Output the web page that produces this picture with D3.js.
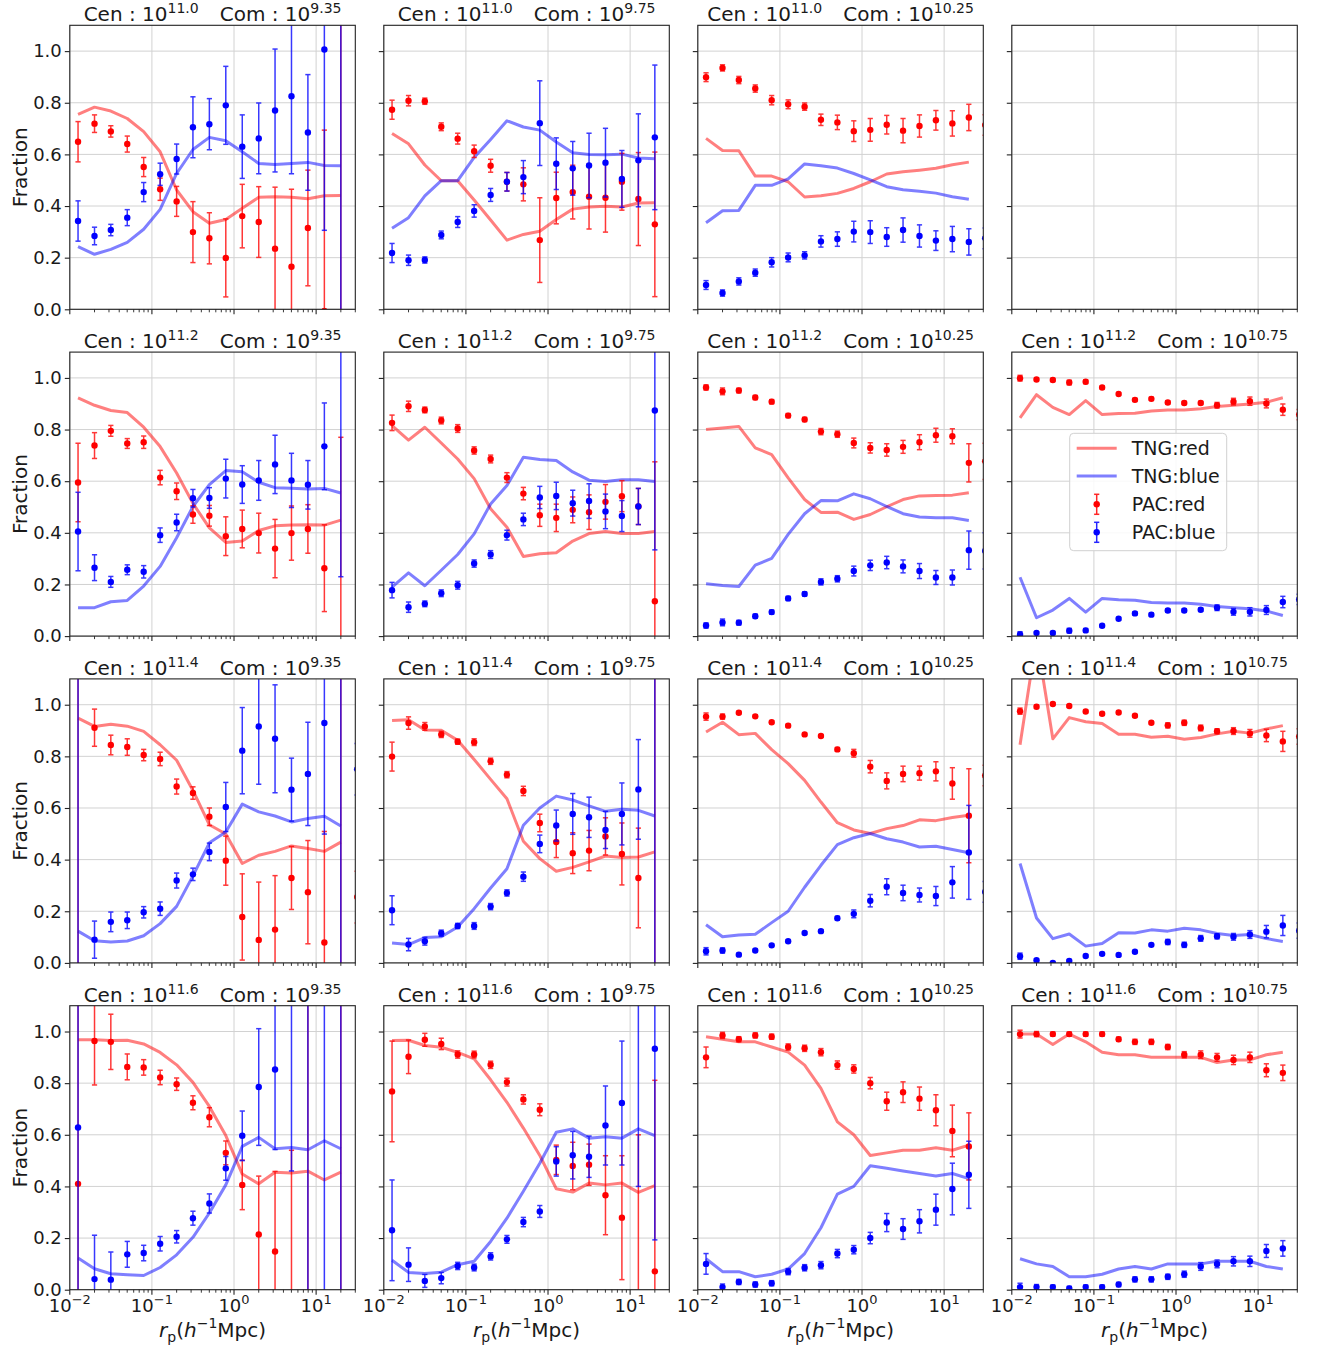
<!DOCTYPE html>
<html>
<head>
<meta charset="utf-8">
<title>Red and blue companion fractions vs projected distance</title>
<script src="https://cdn.jsdelivr.net/npm/d3@7/dist/d3.min.js"></script>
<style>
  html, body { margin: 0; padding: 0; background: #ffffff; }
  svg text { font-family: "DejaVu Sans", "Liberation Sans", sans-serif; fill: #1a1a1a; }
</style>
</head>
<body>
<svg id="fig" width="1320" height="1349"></svg>
<script>
// projected separation bin centres (h^-1 Mpc), 0.2 dex bins
const rp = [0.0126, 0.0200, 0.0316, 0.0501, 0.0794, 0.126, 0.200, 0.316, 0.501,
            0.794, 1.26, 2.00, 3.16, 5.01, 7.94, 12.6, 20.0, 31.6];

const cenMass = ["11.0", "11.2", "11.4", "11.6"];    // rows: central stellar mass
const comMass = ["9.35", "9.75", "10.25", "10.75"];  // columns: companion stellar mass

// panels in row-major order; null = no measurement for that mass pair
const tngRed = [
  [0.755,0.783,0.768,0.739,0.688,0.610,0.462,0.378,0.333,0.348,0.391,0.434,0.436,0.434,0.428,0.440,0.441],
  [0.681,0.641,0.559,0.498,0.498,0.423,0.346,0.268,0.290,0.302,0.348,0.388,0.396,0.399,0.396,0.412,0.413],
  [0.662,0.615,0.614,0.516,0.516,0.494,0.435,0.440,0.449,0.468,0.494,0.524,0.533,0.539,0.546,0.560,0.570],
  null,
  [0.923,0.894,0.874,0.866,0.809,0.734,0.632,0.514,0.419,0.363,0.368,0.409,0.427,0.430,0.431,0.430,0.449],
  [0.815,0.759,0.809,0.748,0.686,0.610,0.493,0.422,0.308,0.319,0.323,0.368,0.397,0.405,0.397,0.397,0.405],
  [0.800,0.806,0.812,0.729,0.703,0.613,0.529,0.479,0.480,0.452,0.471,0.501,0.529,0.543,0.545,0.546,0.555],
  [0.845,0.935,0.886,0.858,0.912,0.858,0.862,0.863,0.872,0.876,0.876,0.881,0.889,0.894,0.899,0.906,0.923],
  [0.948,0.916,0.924,0.917,0.897,0.845,0.785,0.668,0.535,0.499,0.385,0.417,0.432,0.453,0.443,0.432,0.468],
  [0.939,0.942,0.902,0.901,0.862,0.788,0.711,0.636,0.471,0.404,0.355,0.370,0.391,0.414,0.408,0.410,0.430],
  [0.894,0.932,0.884,0.889,0.826,0.772,0.707,0.623,0.543,0.515,0.501,0.520,0.532,0.554,0.551,0.563,0.572],
  [0.845,1.260,0.868,0.950,0.934,0.927,0.886,0.886,0.874,0.878,0.866,0.873,0.887,0.897,0.890,0.906,0.919],
  [0.968,0.968,0.965,0.966,0.952,0.919,0.871,0.803,0.710,0.597,0.448,0.410,0.455,0.452,0.459,0.425,0.455],
  [0.965,0.966,0.946,0.939,0.919,0.894,0.813,0.726,0.626,0.520,0.391,0.378,0.413,0.406,0.413,0.377,0.403],
  [0.980,0.970,0.960,0.960,0.940,0.920,0.870,0.780,0.650,0.600,0.520,0.530,0.540,0.540,0.550,0.540,0.560],
  [0.990,0.990,0.950,0.990,0.960,0.920,0.910,0.910,0.900,0.900,0.900,0.900,0.880,0.890,0.890,0.910,0.920]
];

const tngBlue = [
  [0.243,0.213,0.232,0.259,0.310,0.387,0.526,0.619,0.666,0.653,0.610,0.565,0.561,0.565,0.569,0.557,0.556],
  [0.314,0.355,0.439,0.498,0.498,0.588,0.658,0.730,0.706,0.694,0.648,0.606,0.600,0.599,0.601,0.586,0.583],
  [0.335,0.382,0.383,0.480,0.480,0.505,0.563,0.556,0.547,0.526,0.501,0.475,0.463,0.457,0.450,0.436,0.426],
  null,
  [0.110,0.110,0.133,0.138,0.194,0.270,0.381,0.502,0.587,0.641,0.637,0.596,0.575,0.573,0.570,0.572,0.554],
  [0.190,0.245,0.195,0.255,0.316,0.396,0.512,0.583,0.693,0.684,0.680,0.636,0.604,0.599,0.606,0.606,0.599],
  [0.203,0.196,0.192,0.275,0.301,0.394,0.474,0.525,0.524,0.551,0.532,0.502,0.474,0.461,0.458,0.458,0.448],
  [0.228,0.071,0.101,0.146,0.093,0.146,0.141,0.139,0.130,0.128,0.128,0.123,0.115,0.110,0.106,0.097,0.080],
  [0.123,0.086,0.081,0.085,0.105,0.152,0.219,0.337,0.465,0.507,0.615,0.585,0.569,0.546,0.559,0.568,0.530],
  [0.077,0.071,0.098,0.101,0.139,0.210,0.290,0.365,0.533,0.600,0.646,0.631,0.608,0.587,0.595,0.591,0.569],
  [0.148,0.101,0.108,0.111,0.156,0.200,0.293,0.378,0.458,0.485,0.501,0.481,0.468,0.449,0.452,0.439,0.427],
  [0.385,0.174,0.094,0.112,0.065,0.075,0.117,0.116,0.128,0.123,0.134,0.128,0.114,0.106,0.110,0.094,0.083],
  [0.123,0.081,0.062,0.058,0.055,0.086,0.135,0.203,0.297,0.406,0.555,0.590,0.546,0.551,0.542,0.577,0.546],
  [0.114,0.067,0.063,0.068,0.097,0.110,0.187,0.277,0.381,0.490,0.610,0.623,0.587,0.592,0.587,0.623,0.597],
  [0.120,0.070,0.070,0.050,0.060,0.080,0.140,0.240,0.370,0.400,0.480,0.470,0.460,0.450,0.440,0.450,0.430],
  [0.120,0.100,0.090,0.050,0.050,0.060,0.080,0.090,0.080,0.100,0.100,0.100,0.110,0.110,0.110,0.090,0.080]
];

const pacRed = [
  [0.649,0.719,0.689,0.640,0.551,0.465,0.418,0.299,0.275,0.199,0.361,0.338,0.235,0.165,0.315,-0.006,-0.6,null],
  [0.773,0.808,0.806,0.707,0.661,0.612,0.556,0.494,0.484,0.268,0.431,0.454,0.436,0.432,0.494,0.427,0.329,null],
  [0.899,0.935,0.888,0.855,0.810,0.794,0.785,0.734,0.724,0.690,0.695,0.715,0.692,0.710,0.732,0.720,0.743,0.714],
  null,
  [0.595,0.738,0.795,0.746,0.751,0.614,0.561,0.471,0.466,0.387,0.415,0.399,0.339,0.399,0.415,0.263,-0.3,null],
  [0.826,0.890,0.876,0.835,0.804,0.719,0.686,0.614,0.552,0.468,0.458,0.489,0.480,0.520,0.542,0.502,0.135,null],
  [0.963,0.948,0.951,0.924,0.908,0.854,0.839,0.792,0.782,0.748,0.729,0.721,0.733,0.751,0.778,0.774,0.671,0.677],
  [0.999,0.994,0.992,0.982,0.985,0.963,0.938,0.915,0.919,0.905,0.903,0.903,0.894,0.908,0.910,0.901,0.877,0.858],
  [1.3,0.911,0.844,0.836,0.805,0.790,0.683,0.658,0.566,0.396,0.178,0.089,0.129,0.329,0.274,0.079,-0.5,0.255],
  [0.799,0.929,0.916,0.885,0.857,0.855,0.781,0.729,0.666,0.542,0.468,0.425,0.435,0.490,0.422,0.329,-0.5,null],
  [0.954,0.954,0.969,0.955,0.932,0.919,0.885,0.879,0.827,0.812,0.760,0.705,0.732,0.735,0.742,0.695,0.570,0.726],
  [0.975,0.992,1.003,0.995,0.974,0.965,0.970,0.957,0.930,0.920,0.930,0.910,0.897,0.898,0.889,0.881,0.858,0.877],
  [0.410,0.963,0.960,0.863,0.861,0.822,0.796,0.724,0.668,0.530,0.406,0.214,0.148,-0.2,-0.6,null,-0.6,null],
  [0.768,0.902,0.968,0.952,0.911,0.911,0.871,0.804,0.737,0.697,0.503,0.479,0.484,0.366,0.279,-0.25,0.071,null],
  [0.900,0.985,0.970,0.985,0.980,0.940,0.935,0.920,0.870,0.855,0.800,0.730,0.765,0.740,0.695,0.615,0.555,null],
  [0.990,0.990,0.990,0.990,0.990,0.990,0.970,0.960,0.960,0.940,0.910,0.910,0.900,0.890,0.900,0.850,0.840,null]
];

const pacBlue = [
  [0.342,0.284,0.307,0.355,0.454,0.523,0.582,0.705,0.717,0.790,0.630,0.662,0.770,0.825,0.685,1.006,1.6,null],
  [0.218,0.190,0.191,0.288,0.338,0.381,0.443,0.494,0.512,0.721,0.564,0.546,0.557,0.568,0.505,0.577,0.666,null],
  [0.094,0.063,0.108,0.142,0.182,0.201,0.209,0.263,0.272,0.301,0.299,0.280,0.307,0.284,0.266,0.272,0.261,0.275],
  null,
  [0.405,0.265,0.210,0.257,0.249,0.391,0.440,0.534,0.535,0.610,0.587,0.603,0.665,0.603,0.586,0.735,1.3,null],
  [0.178,0.112,0.125,0.166,0.197,0.281,0.316,0.391,0.452,0.537,0.543,0.515,0.523,0.483,0.465,0.502,0.874,null],
  [0.041,0.053,0.052,0.077,0.093,0.146,0.163,0.210,0.222,0.252,0.274,0.285,0.270,0.252,0.227,0.227,0.333,0.330],
  [0.006,0.012,0.012,0.021,0.022,0.040,0.067,0.088,0.083,0.099,0.099,0.102,0.110,0.094,0.094,0.101,0.132,0.142],
  [-0.3,0.090,0.159,0.165,0.196,0.210,0.319,0.343,0.430,0.604,0.822,0.916,0.868,0.671,0.732,0.929,1.5,0.75],
  [0.204,0.071,0.084,0.115,0.143,0.143,0.218,0.271,0.334,0.461,0.532,0.577,0.564,0.515,0.577,0.672,1.5,null],
  [0.045,0.048,0.032,0.048,0.068,0.084,0.116,0.123,0.173,0.190,0.241,0.295,0.271,0.263,0.259,0.312,0.428,0.275],
  [0.026,0.010,0.000,0.008,0.027,0.035,0.031,0.043,0.070,0.081,0.070,0.095,0.103,0.101,0.110,0.121,0.145,0.125],
  [0.628,0.041,0.039,0.137,0.142,0.178,0.205,0.277,0.334,0.470,0.596,0.785,0.853,1.2,1.6,1.8,1.6,null],
  [0.230,0.097,0.034,0.045,0.092,0.086,0.129,0.195,0.262,0.303,0.497,0.521,0.515,0.636,0.723,1.25,0.933,null],
  [0.100,0.010,0.030,0.020,0.025,0.070,0.085,0.095,0.140,0.155,0.200,0.260,0.235,0.265,0.310,0.390,0.445,null],
  [0.010,0.010,0.010,0.005,0.010,0.010,0.020,0.040,0.040,0.050,0.060,0.090,0.100,0.110,0.110,0.150,0.160,null]
];

// 1-sigma uncertainty, shared by the red and blue fractions of a bin
const pacErr = [
  [0.078,0.034,0.022,0.031,0.037,0.043,0.058,0.118,0.099,0.151,0.123,0.137,0.238,0.300,0.224,0.700,2.5,0],
  [0.037,0.020,0.012,0.015,0.021,0.024,0.025,0.036,0.064,0.164,0.100,0.104,0.125,0.133,0.110,0.180,0.280,0],
  [0.017,0.012,0.014,0.014,0.018,0.017,0.014,0.022,0.028,0.040,0.044,0.036,0.047,0.043,0.038,0.049,0.051,0.04],
  null,
  [0.152,0.050,0.021,0.019,0.024,0.028,0.032,0.034,0.040,0.075,0.073,0.077,0.113,0.105,0.094,0.168,1.07,0],
  [0.030,0.020,0.011,0.013,0.015,0.014,0.015,0.019,0.024,0.043,0.053,0.050,0.067,0.067,0.060,0.070,0.540,0],
  [0.010,0.013,0.009,0.008,0.008,0.008,0.008,0.012,0.012,0.019,0.020,0.024,0.025,0.029,0.027,0.029,0.074,0.07],
  [0.011,0.005,0.006,0.009,0.007,0.005,0.005,0.006,0.006,0.006,0.006,0.006,0.011,0.013,0.016,0.017,0.022,0.02],
  [1.6,0.072,0.038,0.032,0.022,0.026,0.029,0.024,0.034,0.095,0.167,0.224,0.209,0.122,0.200,0.430,2.0,0.1],
  [0.056,0.024,0.015,0.012,0.010,0.013,0.012,0.012,0.018,0.034,0.060,0.079,0.078,0.072,0.120,0.193,2.0,0],
  [0.014,0.010,0.005,0.005,0.005,0.005,0.005,0.005,0.007,0.015,0.024,0.031,0.030,0.027,0.037,0.061,0.182,0.04],
  [0.012,0.006,0.005,0.005,0.005,0.005,0.005,0.005,0.005,0.010,0.010,0.011,0.010,0.013,0.015,0.024,0.039,0.03],
  [1.5,0.170,0.107,0.050,0.030,0.028,0.024,0.027,0.037,0.046,0.096,0.226,0.310,0.740,2.5,2.5,2.5,0],
  [0.195,0.065,0.025,0.022,0.014,0.013,0.014,0.015,0.018,0.023,0.057,0.092,0.080,0.153,0.240,0.850,0.740,0],
  [0.040,0.012,0.010,0.010,0.010,0.012,0.012,0.014,0.016,0.016,0.022,0.035,0.040,0.045,0.060,0.100,0.130,0],
  [0.015,0.010,0.008,0.008,0.008,0.008,0.008,0.010,0.010,0.010,0.012,0.015,0.015,0.018,0.020,0.025,0.030,0]
];

const yTicks = [0, 0.2, 0.4, 0.6, 0.8, 1.0];
const xMajor = [0.01, 0.1, 1, 10];
const xMajorExp = ["\u22122", "\u22121", "0", "1"];
const xMinor = [];
xMajor.forEach(dec => { for (let k = 2; k <= 9; k++) if (dec * k <= 30) xMinor.push(dec * k); });

// ---------- layout ----------
const W = 285.5, H = 284;
const colX = [69.8, 383.8, 697.8, 1011.8];
const rowY = [25.3, 352.1, 678.9, 1005.7];
const RED = "#ff0000", BLUE = "#0000ff";
const INK = "#222";

const x = d3.scaleLog().domain([0.01, 30]).range([0, W]);
const y = d3.scaleLinear().domain([0, 1.1]).range([H, 0]);

const svg = d3.select("#fig");
svg.append("rect").attr("width", 1320).attr("height", 1349).attr("fill", "#fff");
const defs = svg.append("defs");

const line = d3.line()
  .defined(d => d[1] != null)
  .x(d => x(d[0]))
  .y(d => y(d[1]));

function drawPac(g, vals, errs, color) {
  const pts = rp.map((r, i) => ({ r, v: vals[i], e: errs[i] })).filter(d => d.v != null);
  const eg = g.append("g").attr("stroke", color).attr("stroke-width", 1.5).attr("opacity", 0.78);
  eg.selectAll("line.bar").data(pts).join("line").attr("class", "bar")
    .attr("x1", d => x(d.r)).attr("x2", d => x(d.r))
    .attr("y1", d => y(d.v - d.e)).attr("y2", d => y(d.v + d.e));
  eg.selectAll("line.capHi").data(pts).join("line").attr("class", "capHi")
    .attr("x1", d => x(d.r) - 2.6).attr("x2", d => x(d.r) + 2.6)
    .attr("y1", d => y(d.v + d.e)).attr("y2", d => y(d.v + d.e));
  eg.selectAll("line.capLo").data(pts).join("line").attr("class", "capLo")
    .attr("x1", d => x(d.r) - 2.6).attr("x2", d => x(d.r) + 2.6)
    .attr("y1", d => y(d.v - d.e)).attr("y2", d => y(d.v - d.e));
  g.append("g").selectAll("circle").data(pts).join("circle")
    .attr("cx", d => x(d.r)).attr("cy", d => y(d.v)).attr("r", 3.2).attr("fill", color);
}

// appends runs of normal / superscript text to one <text> element
function superText(sel, parts, supSize, rise) {
  let raised = false;
  parts.forEach(([t, sup, gap]) => {
    const ts = sel.append("tspan").text(t);
    if (sup) { ts.attr("font-size", supSize); if (!raised) { ts.attr("dy", -rise); raised = true; } }
    else if (raised) { ts.attr("dy", rise); raised = false; }
    if (gap) ts.attr("dx", gap);
  });
}

for (let r = 0; r < 4; r++) {
  for (let c = 0; c < 4; c++) {
    const p = r * 4 + c;
    const g = svg.append("g").attr("transform", `translate(${colX[c]},${rowY[r]})`);
    const clipId = `clip${p}`;
    defs.append("clipPath").attr("id", clipId).append("rect").attr("width", W).attr("height", H);

    // grid
    const grid = g.append("g").attr("stroke", "#d2d2d2").attr("stroke-width", 1);
    grid.selectAll("line.gx").data(xMajor).join("line").attr("class", "gx")
      .attr("x1", d => x(d)).attr("x2", d => x(d)).attr("y1", 0).attr("y2", H);
    grid.selectAll("line.gy").data(yTicks).join("line").attr("class", "gy")
      .attr("x1", 0).attr("x2", W).attr("y1", d => y(d)).attr("y2", d => y(d));

    const body = g.append("g").attr("clip-path", `url(#${clipId})`);
    if (tngRed[p]) {
      body.append("path").datum(tngRed[p].map((v, i) => [rp[i], v]))
        .attr("d", line).attr("fill", "none").attr("stroke", RED)
        .attr("stroke-opacity", 0.5).attr("stroke-width", 3).attr("stroke-linejoin", "round");
      body.append("path").datum(tngBlue[p].map((v, i) => [rp[i], v]))
        .attr("d", line).attr("fill", "none").attr("stroke", BLUE)
        .attr("stroke-opacity", 0.5).attr("stroke-width", 3).attr("stroke-linejoin", "round");
      drawPac(body, pacRed[p], pacErr[p], RED);
      drawPac(body, pacBlue[p], pacErr[p], BLUE);
    }

    // frame
    g.append("rect").attr("width", W).attr("height", H)
      .attr("fill", "none").attr("stroke", INK).attr("stroke-width", 1.1);

    // y ticks
    const ya = g.append("g").call(d3.axisLeft(y).tickValues(yTicks).tickSize(5).tickPadding(3)
      .tickFormat(c === 0 ? d3.format(".1f") : () => ""));
    ya.select(".domain").remove();
    ya.selectAll("line").attr("stroke", INK).attr("stroke-width", 1.1);
    ya.selectAll("text").attr("font-size", 18).attr("fill", "#1a1a1a")
      .style("font-family", "'DejaVu Sans', sans-serif");

    // x ticks (major + minor)
    const xa = g.append("g").attr("transform", `translate(0,${H})`);
    xa.selectAll("line.mj").data(xMajor).join("line").attr("class", "mj")
      .attr("x1", d => x(d)).attr("x2", d => x(d)).attr("y1", 0).attr("y2", 5)
      .attr("stroke", INK).attr("stroke-width", 1.1);
    xa.selectAll("line.mn").data(xMinor).join("line").attr("class", "mn")
      .attr("x1", d => x(d)).attr("x2", d => x(d)).attr("y1", 0).attr("y2", 3)
      .attr("stroke", INK).attr("stroke-width", 0.9);

    if (r === 3) {
      xMajor.forEach((v, i) => {
        const t = xa.append("text").attr("x", x(v)).attr("y", 22).attr("text-anchor", "middle")
          .attr("font-size", 18);
        superText(t, [["10", false], [xMajorExp[i], true]], 13, 8);
      });
    }

    // panel title (only where the mass pair has data)
    if (tngRed[p]) {
      const title = g.append("text").attr("x", W / 2).attr("y", -4)
        .attr("text-anchor", "middle").attr("font-size", 20);
      superText(title, [["Cen : 10", false], [cenMass[r], true],
                        ["Com : 10", false, 21], [comMass[c], true]], 14, 8);
    }
  }
}

// y-axis labels
for (let r = 0; r < 4; r++) {
  svg.append("text")
    .attr("transform", `translate(${colX[0] - 43},${rowY[r] + H / 2}) rotate(-90)`)
    .attr("text-anchor", "middle").attr("font-size", 20).text("Fraction");
}

// x-axis labels
for (let c = 0; c < 4; c++) {
  const t = svg.append("text").attr("x", colX[c] + W / 2).attr("y", rowY[3] + H + 47)
    .attr("text-anchor", "middle").attr("font-size", 20);
  t.append("tspan").attr("font-style", "italic").text("r");
  t.append("tspan").attr("font-size", 14).attr("dy", 5).text("p");
  t.append("tspan").attr("dy", -5).text("(");
  t.append("tspan").attr("font-style", "italic").text("h");
  t.append("tspan").attr("font-size", 14).attr("dy", -9).text("\u22121");
  t.append("tspan").attr("dy", 9).text("Mpc)");
}

// legend in the (Cen 11.2, Com 10.75) panel
{
  const lg = svg.append("g").attr("transform", `translate(${colX[3]},${rowY[1]})`);
  lg.append("rect").attr("x", 57.9).attr("y", 81.2).attr("width", 157).attr("height", 117.4)
    .attr("rx", 4).attr("fill", "#fff").attr("fill-opacity", 0.85)
    .attr("stroke", "#d0d0d0").attr("stroke-width", 1);
  const items = [
    { label: "TNG:red", color: RED, kind: "line", yy: 96.2 },
    { label: "TNG:blue", color: BLUE, kind: "line", yy: 123.9 },
    { label: "PAC:red", color: RED, kind: "pt", yy: 152.2 },
    { label: "PAC:blue", color: BLUE, kind: "pt", yy: 180.2 }
  ];
  items.forEach(it => {
    if (it.kind === "line") {
      lg.append("line").attr("x1", 64.9).attr("x2", 104.9).attr("y1", it.yy).attr("y2", it.yy)
        .attr("stroke", it.color).attr("stroke-opacity", 0.5).attr("stroke-width", 3);
    } else {
      const eg = lg.append("g").attr("stroke", it.color).attr("stroke-width", 1.5).attr("opacity", 0.85);
      eg.append("line").attr("x1", 84.9).attr("x2", 84.9).attr("y1", it.yy - 10).attr("y2", it.yy + 10);
      eg.append("line").attr("x1", 82.3).attr("x2", 87.5).attr("y1", it.yy - 10).attr("y2", it.yy - 10);
      eg.append("line").attr("x1", 82.3).attr("x2", 87.5).attr("y1", it.yy + 10).attr("y2", it.yy + 10);
      lg.append("circle").attr("cx", 84.9).attr("cy", it.yy).attr("r", 3.2).attr("fill", it.color);
    }
    lg.append("text").attr("x", 119.9).attr("y", it.yy + 7).attr("font-size", 19).text(it.label);
  });
}
</script>
</body>
</html>
